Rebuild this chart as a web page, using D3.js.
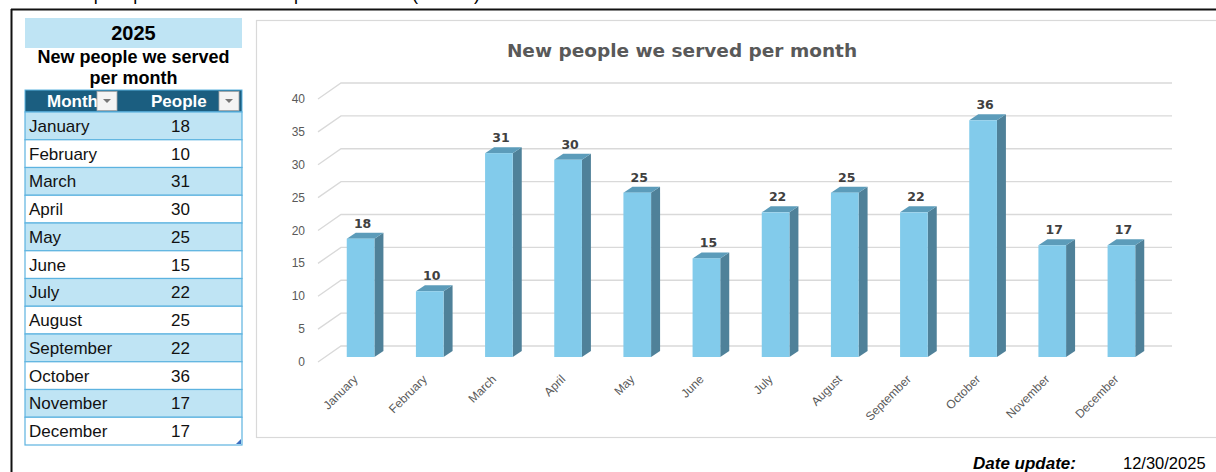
<!DOCTYPE html>
<html>
<head>
<meta charset="utf-8">
<script src="https://cdn.jsdelivr.net/npm/d3@7"></script>
<style>
  body { margin: 0; background: #fff; }
  svg { display: block; }
</style>
</head>
<body>
<div id="main"></div>
<script>
// data
var months = ['January', 'February', 'March', 'April', 'May', 'June', 'July',
  'August', 'September', 'October', 'November', 'December'];
var people = [18, 10, 31, 30, 25, 15, 22, 25, 22, 36, 17, 17];
var yTicks = [0, 5, 10, 15, 20, 25, 30, 35, 40];
var tableYear = '2025';
var tableTitle = ['New people we served', 'per month'];
var tableHeads = ['Month', 'People'];
var chartTitle = 'New people we served per month';
var dateLabel = 'Date update:';
var dateValue = '12/30/2025';

var W = 1216, H = 472;

var svg = d3.select('#main').append('svg')
  .attr('width', W)
  .attr('height', H);

// cut off heading above the frame
svg.append('text')
  .attr('x', 40)
  .attr('y', 0)
  .attr('textLength', 440)
  .attr('font-family', 'Liberation Sans, Arial, sans-serif')
  .attr('font-size', 18)
  .attr('fill', '#000')
  .text('New people we served per month (2025)');

// black frame
svg.append('line').attr('x1', 11).attr('x2', W).attr('y1', 9.5).attr('y2', 9.5)
  .attr('stroke', '#111').attr('stroke-width', 2);
svg.append('line').attr('x1', 11.5).attr('x2', 11.5).attr('y1', 9).attr('y2', H)
  .attr('stroke', '#111').attr('stroke-width', 2);

// ---------- table ----------
var tx = 25, tw = 217;
var lightBlue = '#bfe4f4', headBlue = '#1b5e80', lineBlue = '#5db3e0';

svg.append('rect').attr('x', tx).attr('y', 18).attr('width', tw).attr('height', 30)
  .attr('fill', lightBlue);
svg.append('text').attr('x', tx + tw / 2).attr('y', 40)
  .attr('text-anchor', 'middle')
  .attr('font-family', 'Liberation Sans, Arial, sans-serif')
  .attr('font-weight', 'bold').attr('font-size', 20)
  .text(tableYear);
svg.selectAll('.ttl').data(tableTitle).enter().append('text')
  .attr('class', 'ttl')
  .attr('x', tx + tw / 2)
  .attr('y', function(d, i) { return 63 + i * 21; })
  .attr('text-anchor', 'middle')
  .attr('font-family', 'Liberation Sans, Arial, sans-serif')
  .attr('font-weight', 'bold').attr('font-size', 18)
  .text(function(d) { return d; });

var headY = 90, headH = 22, rowH = 27.75;
var rowY = d3.scaleLinear().domain([0, 1]).range([headY + headH, headY + headH + rowH]);

svg.append('rect').attr('x', tx).attr('y', headY).attr('width', tw).attr('height', headH)
  .attr('fill', headBlue).attr('stroke', lineBlue).attr('stroke-width', 1);

var headX = [{ t: tableHeads[0], x: 47, bx: 97 }, { t: tableHeads[1], x: 151, bx: 219 }];
headX.forEach(function(h) {
  svg.append('text').attr('x', h.x).attr('y', headY + 17)
    .attr('font-family', 'Liberation Sans, Arial, sans-serif')
    .attr('font-weight', 'bold').attr('font-size', 17)
    .attr('fill', '#fff').text(h.t);
  svg.append('rect').attr('x', h.bx).attr('y', headY + 1.5).attr('width', 20).attr('height', 19)
    .attr('fill', '#f4f4f4').attr('stroke', '#a9a9a9').attr('stroke-width', 0.8);
  svg.append('path')
    .attr('d', 'M' + (h.bx + 6) + ',' + (headY + 9) + 'h8l-4,4z')
    .attr('fill', '#777');
});

var rows = svg.selectAll('.row').data(months).enter().append('g')
  .attr('class', 'row')
  .attr('transform', function(d, i) { return 'translate(0,' + rowY(i) + ')'; });
rows.append('rect')
  .attr('x', tx).attr('width', tw).attr('height', rowH)
  .attr('fill', function(d, i) { return i % 2 == 0 ? lightBlue : '#fff'; })
  .attr('stroke', lineBlue).attr('stroke-width', 1.2);
rows.append('text')
  .attr('x', tx + 4).attr('y', rowH / 2 + 6)
  .attr('font-family', 'Liberation Sans, Arial, sans-serif')
  .attr('font-size', 17).attr('fill', '#111')
  .text(function(d) { return d; });
rows.append('text')
  .attr('x', 171).attr('y', rowH / 2 + 6)
  .attr('font-family', 'Liberation Sans, Arial, sans-serif')
  .attr('font-size', 17).attr('fill', '#111')
  .text(function(d, i) { return people[i]; });

var tEnd = rowY(months.length);
svg.append('path')
  .attr('d', 'M' + (tx + tw - 1) + ',' + (tEnd - 6) + 'v5h-5z')
  .attr('fill', '#3b6fc0');

// ---------- chart ----------
svg.append('rect').attr('x', 256.5).attr('y', 20.5).attr('width', 1000).attr('height', 417)
  .attr('fill', '#fff').attr('stroke', '#d9d9d9').attr('stroke-width', 1.2);

svg.append('text').attr('x', 682).attr('y', 57)
  .attr('text-anchor', 'middle')
  .attr('font-family', 'DejaVu Sans, Verdana, sans-serif')
  .attr('font-weight', 'bold').attr('font-size', 18.5)
  .attr('fill', '#595959')
  .text(chartTitle);

// front floor plane scale
var y = d3.scaleLinear().domain([0, 40]).range([362, 99]);
var x = d3.scaleBand().domain(months).range([326, 1156])
  .paddingInner(0.6).paddingOuter(0.3);

var depthX = 23, depthY = -16;   // wall depth
var barDX = 9, barDY = -6;       // bar depth
var barBack = 5;                 // bar front sits 5px behind floor edge

var grid = svg.append('g');
grid.selectAll('.gl').data(yTicks).enter().append('path')
  .attr('d', function(d) {
    var y0 = y(d);
    return 'M318,' + y0 + 'L' + (318 + depthX) + ',' + (y0 + depthY) + 'H1172';
  })
  .attr('fill', 'none').attr('stroke', '#d9d9d9').attr('stroke-width', 1.3);

grid.selectAll('.yl').data(yTicks).enter().append('text')
  .attr('x', 305).attr('y', function(d) { return y(d) + 4; })
  .attr('text-anchor', 'end')
  .attr('font-family', 'Liberation Sans, Arial, sans-serif')
  .attr('font-size', 12).attr('fill', '#595959')
  .text(function(d) { return d; });

var bars = svg.selectAll('.bar').data(months).enter().append('g').attr('class', 'bar');

function front(i) { return y(people[i]) - barBack; }
var base = y(0) - barBack;

// side
bars.append('path')
  .attr('d', function(d, i) {
    var x1 = x(d) + x.bandwidth(), t = front(i);
    return 'M' + x1 + ',' + base + 'L' + (x1 + barDX) + ',' + (base + barDY) +
      'L' + (x1 + barDX) + ',' + (t + barDY) + 'L' + x1 + ',' + t + 'Z';
  })
  .attr('fill', '#4f8199');
// top
bars.append('path')
  .attr('d', function(d, i) {
    var x0 = x(d), x1 = x0 + x.bandwidth(), t = front(i);
    return 'M' + x0 + ',' + t + 'L' + (x0 + barDX) + ',' + (t + barDY) +
      'L' + (x1 + barDX) + ',' + (t + barDY) + 'L' + x1 + ',' + t + 'Z';
  })
  .attr('fill', '#5c9cba');
// front
bars.append('rect')
  .attr('x', function(d) { return x(d); })
  .attr('y', function(d, i) { return front(i); })
  .attr('width', x.bandwidth())
  .attr('height', function(d, i) { return base - front(i); })
  .attr('fill', '#82cbeb');

bars.append('text')
  .attr('x', function(d) { return x(d) + x.bandwidth() / 2 + 2; })
  .attr('y', function(d, i) { return front(i) - 11; })
  .attr('text-anchor', 'middle')
  .attr('font-family', 'DejaVu Sans, Verdana, sans-serif')
  .attr('font-weight', 'bold').attr('font-size', 12.5)
  .attr('fill', '#404040')
  .text(function(d, i) { return people[i]; });

svg.selectAll('.xl').data(months).enter().append('text')
  .attr('class', 'xl')
  .attr('transform', function(d) {
    return 'translate(' + (x(d) + x.bandwidth() / 2 - 5) + ',377) rotate(-45)';
  })
  .attr('text-anchor', 'end')
  .attr('dy', '0.35em')
  .attr('font-family', 'Liberation Sans, Arial, sans-serif')
  .attr('font-size', 12).attr('fill', '#595959')
  .text(function(d) { return d; });

// date footer
svg.append('text').attr('x', 973).attr('y', 469)
  .attr('font-family', 'Liberation Sans, Arial, sans-serif')
  .attr('font-weight', 'bold').attr('font-style', 'italic').attr('font-size', 17)
  .text(dateLabel);
svg.append('text').attr('x', 1123).attr('y', 469)
  .attr('font-family', 'Liberation Sans, Arial, sans-serif')
  .attr('font-size', 16.5)
  .text(dateValue);
</script>
</body>
</html>
